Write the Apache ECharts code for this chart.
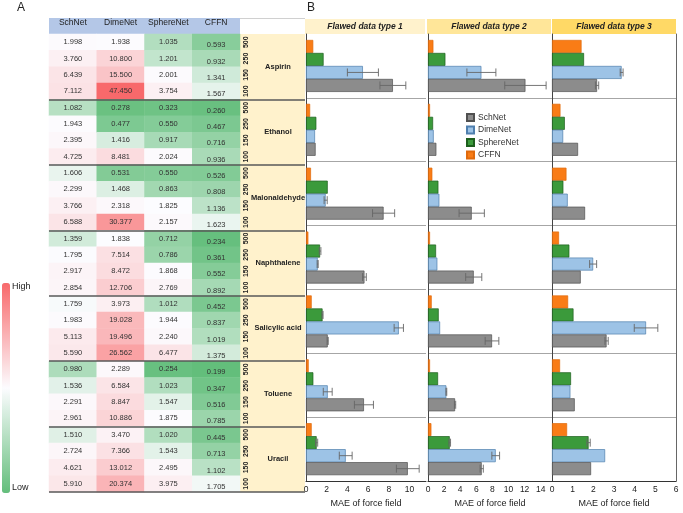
<!DOCTYPE html>
<html><head><meta charset="utf-8">
<script src="https://cdn.jsdelivr.net/npm/echarts@6/dist/echarts.min.js"></script>
<style>html,body{margin:0;padding:0;background:#fff}#c{width:683px;height:513px}</style>
</head><body><div id="c"></div>
<script>
// ---------- data ----------
const models = ['SchNet', 'DimeNet', 'SphereNet', 'CFFN'];
const molecules = ['Aspirin', 'Ethanol', 'Malonaldehyde', 'Naphthalene', 'Salicylic acid', 'Toluene', 'Uracil'];
const sizes = ['500', '250', '150', '100'];
const panelTitles = ['Flawed data type 1', 'Flawed data type 2', 'Flawed data type 3'];

// Panel A: MAE table (rows: molecule x training size 500/250/150/100)
const tableSchNet = [1.998,3.760,6.439,7.112, 1.082,1.943,2.395,4.725, 1.606,2.299,3.766,6.588, 1.359,1.795,2.917,2.854, 1.759,1.983,5.113,5.590, 0.980,1.536,2.291,2.961, 1.510,2.724,4.621,5.910];
const tableDimeNet = [1.938,10.800,15.500,47.450, 0.278,0.477,1.416,8.481, 0.531,1.468,2.318,30.377, 1.838,7.514,8.472,12.706, 3.973,19.028,19.496,26.562, 2.289,6.584,8.847,10.886, 3.470,7.366,13.012,20.374];
const tableSphereNet = [1.035,1.201,2.001,3.754, 0.323,0.550,0.917,2.024, 0.550,0.863,1.825,2.157, 0.712,0.786,1.868,2.769, 1.012,1.944,2.240,6.477, 0.254,1.023,1.547,1.875, 1.020,1.543,2.495,3.975];
const tableCFFN = [0.593,0.932,1.341,1.567, 0.260,0.467,0.716,0.936, 0.526,0.808,1.136,1.623, 0.234,0.361,0.552,0.892, 0.452,0.837,1.019,1.375, 0.199,0.347,0.516,0.785, 0.445,0.713,1.102,1.705];

// Panel B: MAE of force field per flawed data type (order of molecules above)
const schnet1 = [8.4, 0.93, 7.5, 5.65, 2.1, 5.6, 9.84];
const dimenet1 = [5.5, 0.87, 1.9, 1.13, 8.97, 2.1, 3.84];
const sphere1 = [1.7, 1.0, 2.1, 1.36, 1.6, 0.71, 1.03];
const cffn1 = [0.7, 0.4, 0.48, 0.23, 0.55, 0.26, 0.55];
const schnetErr1 = [1.25, 0, 1.07, 0.18, 0.05, 0.92, 1.1];
const dimenetErr1 = [1.5, 0, 0.15, 0.05, 0.45, 0.43, 0.62];
const sphereErr1 = [0, 0, 0, 0.08, 0.05, 0, 0.1];

const schnet2 = [12.1, 1.04, 5.43, 5.68, 7.95, 3.36, 6.67];
const dimenet2 = [6.63, 0.71, 1.41, 1.16, 1.5, 2.28, 8.41];
const sphere2 = [2.16, 0.63, 1.29, 1.0, 1.33, 1.25, 2.7];
const cffn2 = [0.67, 0.25, 0.54, 0.25, 0.46, 0.25, 0.42];
const schnetErr2 = [2.57, 0, 1.57, 1.0, 0.85, 0.08, 0.2];
const dimenetErr2 = [1.8, 0, 0, 0, 0, 0.05, 0.48];
const sphereErr2 = [0, 0, 0, 0, 0, 0, 0.1];

const schnet3 = [2.18, 1.26, 1.6, 1.39, 2.64, 1.1, 1.89];
const dimenet3 = [3.37, 0.54, 0.76, 1.99, 4.55, 0.89, 2.57];
const sphere3 = [1.55, 0.62, 0.55, 0.84, 1.04, 0.92, 1.77];
const cffn3 = [1.43, 0.41, 0.70, 0.34, 0.78, 0.39, 0.73];
const schnetErr3 = [0.08, 0, 0, 0, 0.08, 0, 0];
const dimenetErr3 = [0.07, 0, 0, 0.17, 0.57, 0, 0];
const sphereErr3 = [0, 0, 0, 0, 0, 0, 0.08];

const axisMax = [11.6, 15.4, 6];
const axisInterval = [2, 2, 1];

// ---------- build ----------
const FONT = 'Arial, "Liberation Sans", sans-serif';
const colors = { SchNet: '#8c8c8c', DimeNet: '#9dc3e6', SphereNet: '#3b9a3b', CFFN: '#f97c16' };
const borders = { SchNet: '#505050', DimeNet: '#4f7fae', SphereNet: '#1d5e1d', CFFN: '#e06a0c' };
const BAR_W = 13;

const tableCols = [tableSchNet, tableDimeNet, tableSphereNet, tableCFFN];
const allVals = [].concat(...tableCols).slice().sort((a, b) => a - b);
const vMin = allVals[0], vMax = allVals[allVals.length - 1];
const vMed = (allVals[allVals.length / 2 - 1] + allVals[allVals.length / 2]) / 2;
function score(v) { return v <= vMed ? (v - vMed) / (vMed - vMin) : Math.pow((v - vMed) / (vMax - vMed), 0.8); }

const heatData = [];
tableCols.forEach((col, m) => col.forEach((v, r) => {
  const item = { value: [m, r, v, score(v)] };
  if (m === 3) item.label = { offset: [0, 3] };
  heatData.push(item);
}));
const rowSizes = [];
molecules.forEach(() => sizes.forEach(s => rowSizes.push(s)));

const panels = [
  { SchNet: schnet1, DimeNet: dimenet1, SphereNet: sphere1, CFFN: cffn1, err: { SchNet: schnetErr1, DimeNet: dimenetErr1, SphereNet: sphereErr1 } },
  { SchNet: schnet2, DimeNet: dimenet2, SphereNet: sphere2, CFFN: cffn2, err: { SchNet: schnetErr2, DimeNet: dimenetErr2, SphereNet: sphereErr2 } },
  { SchNet: schnet3, DimeNet: dimenet3, SphereNet: sphere3, CFFN: cffn3, err: { SchNet: schnetErr3, DimeNet: dimenetErr3, SphereNet: sphereErr3 } }
];
const barOrder = ['CFFN', 'SphereNet', 'DimeNet', 'SchNet']; // top to bottom

const grids = [
  { left: 49, top: 34, width: 191, height: 458 },
  { left: 49, top: 34, width: 256, height: 458 },
  { left: 306, top: 34, width: 120, height: 458 },
  { left: 428, top: 34, width: 124, height: 458 },
  { left: 552, top: 34, width: 124, height: 458 }
];

const xAxes = [
  { type: 'category', gridIndex: 0, data: models, position: 'top', axisLine: { show: false }, axisTick: { show: false },
    axisLabel: { interval: 0, margin: 7, fontSize: 8.5, color: '#222', fontFamily: FONT } },
  { type: 'value', gridIndex: 1, show: false, min: 0, max: 1 }
];
const yAxes = [
  { type: 'category', gridIndex: 0, data: rowSizes, inverse: true, position: 'right', axisLine: { show: false }, axisTick: { show: false },
    axisLabel: { interval: 0, rotate: 90, margin: 3, fontSize: 7, fontWeight: 'bold', color: '#222', fontFamily: FONT } },
  { type: 'category', gridIndex: 1, data: molecules, inverse: true, position: 'right', z: 5,
    axisLine: { show: false }, axisTick: { show: false },
    axisLabel: { interval: 0, inside: true, align: 'center', margin: 27, fontSize: 7.5, fontWeight: 'bold', color: '#222', fontFamily: FONT },
    splitLine: { show: true, showMinLine: false, lineStyle: { color: '#595959', width: 1.5 } } }
];

const series = [{
  type: 'heatmap', xAxisIndex: 0, yAxisIndex: 0, data: heatData,
  label: { show: true, fontSize: 7.5, color: '#333', fontFamily: FONT, formatter: p => p.value[2].toFixed(3) },
  itemStyle: { borderWidth: 0 }, emphasis: { disabled: true }
}];

panels.forEach((pd, p) => {
  const gi = p + 2;
  const xi = xAxes.length, yi = yAxes.length;
  const intv = axisInterval[p];
  xAxes.push({
    type: 'value', gridIndex: gi, min: 0, max: axisMax[p], interval: intv,
    name: 'MAE of force field', nameLocation: 'middle', nameGap: 17,
    nameTextStyle: { fontSize: 9, color: '#222', fontFamily: FONT },
    axisLine: { show: true, lineStyle: { color: '#333', width: 1 } }, axisTick: { show: false },
    splitLine: { show: false },
    axisLabel: { margin: 4, fontSize: 8.5, color: '#222', fontFamily: FONT, showMaxLabel: true,
      formatter: v => (Math.abs(v / intv - Math.round(v / intv)) < 1e-6 ? String(v) : '') }
  });
  yAxes.push({
    type: 'category', gridIndex: gi, data: molecules, inverse: true,
    axisLine: { show: true, lineStyle: { color: '#444', width: 1 } }, axisTick: { show: false }, axisLabel: { show: false },
    splitLine: { show: true, showMinLine: false, showMaxLine: false, lineStyle: { color: '#a6a6a6', width: 1 } }
  });
  if (p === 2) {
    yAxes.push({ type: 'category', gridIndex: gi, data: molecules, position: 'right',
      axisLine: { show: true, lineStyle: { color: '#666', width: 1 } }, axisTick: { show: false }, axisLabel: { show: false }, splitLine: { show: false } });
  }
  barOrder.forEach(m => {
    series.push({
      type: 'bar', name: m, xAxisIndex: xi, yAxisIndex: yi, data: pd[m], barWidth: BAR_W, barGap: '0%',
      itemStyle: { color: colors[m], borderColor: borders[m], borderWidth: 0.7 }, emphasis: { disabled: true }, z: 2
    });
  });
  const errData = [];
  barOrder.forEach((m, slot) => {
    if (!pd.err[m]) return;
    pd[m].forEach((v, c) => { if (pd.err[m][c] > 0) errData.push([v, c, pd.err[m][c], slot]); });
  });
  series.push({
    type: 'custom', name: 'err' + p, xAxisIndex: xi, yAxisIndex: yi, data: errData, z: 4, silent: true,
    encode: { x: 0, y: 1 },
    renderItem: (params, api) => {
      const v = api.value(0), c = api.value(1), e = api.value(2), s = api.value(3);
      const cy = api.coord([v, c])[1] + (s - 1.5) * BAR_W;
      const x1 = api.coord([v - e, c])[0], x2 = api.coord([v + e, c])[0];
      const st = { stroke: '#666', lineWidth: 0.9 };
      return { type: 'group', children: [
        { type: 'line', shape: { x1: x1, y1: cy, x2: x2, y2: cy }, style: st },
        { type: 'line', shape: { x1: x1, y1: cy - 4, x2: x1, y2: cy + 4 }, style: st },
        { type: 'line', shape: { x1: x2, y1: cy - 4, x2: x2, y2: cy + 4 }, style: st }
      ] };
    }
  });
});

const headerFills = ['#fff2cc', '#ffe699', '#ffd966'];
const headerRects = [[305, 120], [427, 124], [552, 124]];
const graphics = [
  { type: 'text', left: 17, top: 2, style: { text: 'A', fontSize: 12, fill: '#222', font: '12px ' + FONT } },
  { type: 'text', left: 307, top: 2, style: { text: 'B', fontSize: 12, fill: '#222', font: '12px ' + FONT } },
  { type: 'rect', shape: { x: 49, y: 18, width: 191, height: 16 }, style: { fill: '#b4c7e7' }, z: -10 },
  { type: 'line', shape: { x1: 240, y1: 18.5, x2: 305, y2: 18.5 }, style: { stroke: '#d0d0d0', lineWidth: 1 }, z: -10 },
  { type: 'rect', shape: { x: 240, y: 34, width: 65, height: 458 }, style: { fill: '#fff2cc' }, z: -10 },
  { type: 'text', left: 12, top: 282, style: { text: 'High', font: '9px ' + FONT, fill: '#222' } },
  { type: 'text', left: 12, top: 483, style: { text: 'Low', font: '9px ' + FONT, fill: '#222' } }
];
headerRects.forEach((r, i) => {
  graphics.push({ type: 'rect', shape: { x: r[0], y: 19, width: r[1], height: 15 }, style: { fill: headerFills[i] }, z: -10 });
  graphics.push({ type: 'text', x: r[0] + r[1] / 2, y: 26.5, style: { text: panelTitles[i], font: 'italic bold 8.5px ' + FONT, fill: '#222', textAlign: 'center', textVerticalAlign: 'middle' } });
});

const chart = echarts.init(document.getElementById('c'), null, { renderer: 'canvas' });
chart.setOption({
  animation: false,
  backgroundColor: '#fff',
  grid: grids,
  xAxis: xAxes,
  yAxis: yAxes,
  visualMap: {
    type: 'continuous', seriesIndex: 0, dimension: 3, min: -1, max: 1, calculable: false,
    orient: 'vertical', left: 2, top: 283, padding: 0, itemWidth: 8, itemHeight: 210, text: null, showLabel: false,
    inRange: { color: ['#63BE7B', '#FCFCFF', '#F8696B'] }
  },
  legend: {
    data: ['SchNet', 'DimeNet', 'SphereNet', 'CFFN'], orient: 'vertical', left: 461, top: 108,
    itemWidth: 7, itemHeight: 7, itemGap: 3.5, icon: 'rect',
    textStyle: { fontSize: 8.5, color: '#333', fontFamily: FONT, padding: [0, 0, 0, -1] }
  },
  graphic: graphics,
  series: series
});
</script></body></html>
